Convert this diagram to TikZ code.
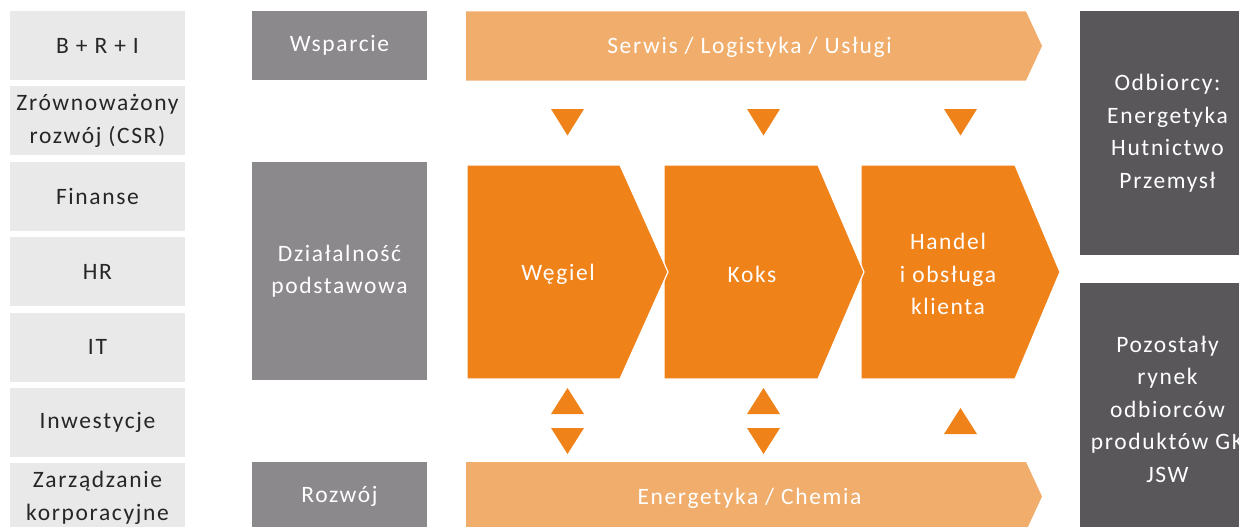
\documentclass[tikz,border=0pt]{standalone}
\usepackage{fontspec}
\setmainfont{Carlito}[LetterSpace=7]
\usepackage{tikz}
\usetikzlibrary{positioning}

\definecolor{sidegray}{HTML}{E9E9E9}
\definecolor{midgray}{HTML}{8B898C}
\definecolor{darkgray}{HTML}{59575A}
\definecolor{lightorange}{HTML}{F0AD6B}
\definecolor{mainorange}{HTML}{F0821A}
\definecolor{textdark}{HTML}{262626}

\begin{document}
\begin{tikzpicture}[x=1pt, y=-1pt,
    txt/.style={font=\fontsize{23.5}{32.5}\selectfont, align=center, inner sep=0pt},
    sidebox/.style={txt, fill=sidegray, text=textdark, minimum width=175pt, minimum height=69pt},
    areabox/.style={txt, fill=midgray, text=white, minimum width=175pt},
    custbox/.style={txt, fill=darkgray, text=white, minimum width=175pt},
    banner/.style={fill=lightorange},
    chevron/.style={fill=mainorange, draw=white, line width=1.2pt, line join=miter},
    tri/.style={fill=mainorange},
    node distance=6pt]
    \useasboundingbox (0,0) rectangle (1239,527);
    \clip (0,0) rectangle (1239,527);

    % support functions
    \node (bri) at (97.5,45.5) [sidebox] {B + R + I};
    \node (csr) [sidebox, below=of bri] {Zrównoważony\\rozwój (CSR)};
    \node (fin) [sidebox, below=of csr] {Finanse};
    \node (hr) [sidebox, below=of fin] {HR};
    \node (it) [sidebox, below=of hr] {IT};
    \node (inw) [sidebox, below=of it] {Inwestycje};
    \node (zarz) [sidebox, below=of inw] {Zarządzanie\\korporacyjne};

    % areas
    \node (wsparcie) at (339.5,45.5) [areabox, minimum height=69pt] {Wsparcie};
    \node (dzial) at (339.5,271) [areabox, minimum height=218pt] {Działalność\\podstawowa};
    \node (rozwoj) at (339.5,496.5) [areabox, minimum height=69pt] {Rozwój};

    % banners
    \fill[banner] (466,11.5) -- (1026,11.5) -- (1042,46) -- (1026,80.5) -- (466,80.5) -- cycle;
    \node (serwis) at (749.5,47.5) [txt, text=white] {Serwis / Logistyka / Usługi};
    \fill[banner] (466,462) -- (1026,462) -- (1042,496.5) -- (1026,531) -- (466,531) -- cycle;
    \node (chemia) at (749.5,498.5) [txt, text=white] {Energetyka / Chemia};

    % value chain
    \filldraw[chevron] (861,165) -- (1015,165) -- (1060,272) -- (1015,379) -- (861,379) -- cycle;
    \filldraw[chevron] (664,165) -- (818,165) -- (864,272) -- (818,379) -- (664,379) -- cycle;
    \filldraw[chevron] (467,165) -- (620,165) -- (668,272) -- (620,379) -- (467,379) -- cycle;
    \node (wegiel) at (558,274) [txt, text=white] {Węgiel};
    \node (koks) at (752,274) [txt, text=white] {Koks};
    \node (handel) at (948,274) [txt, text=white] {Handel\\i obsługa\\klienta};

    % markers
    \fill[tri] (551,109) -- (584,109) -- (567.5,135.5) -- cycle;
    \fill[tri] (747,109) -- (780,109) -- (763.5,135.5) -- cycle;
    \fill[tri] (944,109) -- (977,109) -- (960.5,135.5) -- cycle;
    \fill[tri] (551,414) -- (584,414) -- (567.5,388) -- cycle;
    \fill[tri] (551,428) -- (584,428) -- (567.5,454) -- cycle;
    \fill[tri] (747,414) -- (780,414) -- (763.5,388) -- cycle;
    \fill[tri] (747,428) -- (780,428) -- (763.5,454) -- cycle;
    \fill[tri] (944,434) -- (977,434) -- (960.5,408) -- cycle;

    % customers
    \node (odbiorcy) at (1167.5,133) [custbox, minimum height=244pt] {Odbiorcy:\\Energetyka\\Hutnictwo\\Przemysł};
    \node (rynek) at (1167.5,409) [custbox, minimum height=252pt] {Pozostały\\rynek\\odbiorców\\produktów GK\\JSW};
\end{tikzpicture}
\end{document}
